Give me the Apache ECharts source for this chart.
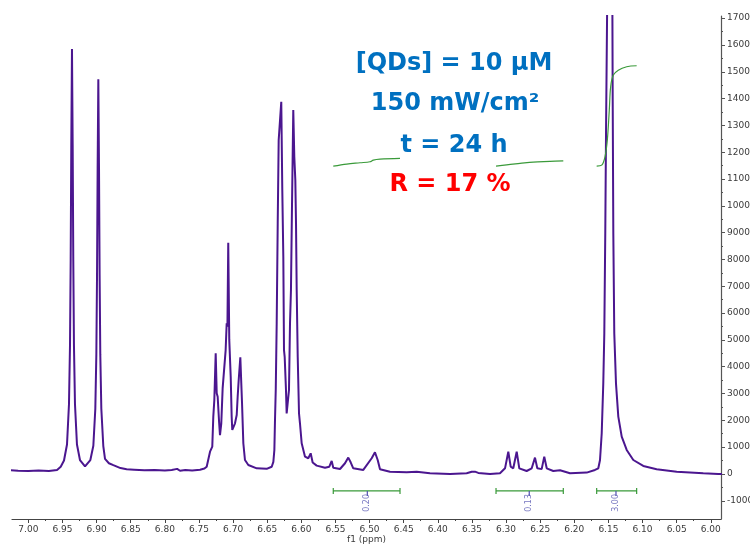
<!DOCTYPE html>
<html><head><meta charset="utf-8">
<script src="https://cdn.jsdelivr.net/npm/echarts@6/dist/echarts.min.js"></script>
<style>html,body{margin:0;padding:0;background:#fff}#c{width:750px;height:545px}</style>
</head><body><div id="c"></div>
<script>
// ---- data (ppm, intensity) ----
const spectrum = [
  [7.030,150],[7.015,120],[7.000,110],[6.985,125],[6.970,110],[6.958,150],
  [6.9526,270],[6.9478,500],[6.9434,1100],[6.9405,2600],[6.9390,4800],[6.9380,8000],[6.9371,12300],
  [6.9361,15850],[6.9351,12300],[6.9342,8000],[6.9332,4800],[6.9317,2600],[6.9288,1100],[6.9244,520],
  [6.9170,280],
  [6.9092,520],[6.9048,1050],[6.9019,2430],[6.9004,4450],[6.8994,7400],[6.8985,11400],[6.8975,14720],
  [6.8965,11400],[6.8956,7400],[6.8946,4450],[6.8931,2430],[6.8902,1040],[6.8877,560],[6.8820,400],
  [6.8755,330],[6.8650,220],[6.8560,175],[6.8450,160],[6.8300,140],[6.8150,150],[6.8000,130],
  [6.7900,150],[6.7820,190],[6.7778,120],[6.7700,150],[6.7600,130],[6.7485,160],[6.7420,200],
  [6.7387,270],[6.7338,830],[6.7305,1020],[6.7290,2140],[6.7275,2760],[6.7255,4500],[6.7240,3010],
  [6.7226,2880],[6.7207,2010],[6.7192,1450],[6.7173,1890],[6.7153,3200],[6.7129,3250],[6.7109,4620],
  [6.7094,5620],[6.7083,5500],[6.7071,8620],[6.7056,5000],[6.7035,3630],[6.7021,2140],[6.7012,1640],
  [6.6997,1580],[6.6972,1890],[6.6947,2200],[6.6933,2880],[6.6918,3500],[6.6909,3570],[6.6894,4350],
  [6.6880,3380],[6.6869,2640],[6.6850,1145],[6.6826,520],[6.6777,335],[6.6654,210],[6.6508,190],
  [6.6434,270],[6.6410,450],[6.6395,900],[6.6386,2000],[6.6375,3130],[6.6361,5620],[6.6346,9350],
  [6.6332,12450],[6.6303,12450],[6.6294,13880],[6.6279,10590],[6.6264,8100],[6.6254,4620],[6.6244,4370],
  [6.6225,3130],[6.6215,2260],[6.6200,2260],[6.6181,3130],[6.6166,5620],[6.6152,6860],[6.6137,9965],
  [6.6118,13570],[6.6103,11830],[6.6088,10960],[6.6078,9350],[6.6068,6860],[6.6053,4370],[6.6034,2260],
  [6.6020,1890],[6.5995,1145],[6.5946,645],[6.5898,585],[6.5863,770],[6.5834,430],[6.5775,310],
  [6.5653,235],[6.5590,270],[6.5555,485],[6.5532,235],[6.5433,185],[6.5360,400],[6.5312,610],
  [6.5277,435],[6.5239,210],[6.5092,150],[6.4969,585],[6.4921,810],[6.4881,520],[6.4847,175],
  [6.4701,85],[6.4456,60],[6.4309,85],[6.4115,25],[6.3821,0],[6.3577,25],[6.3503,85],[6.3480,150],
  [6.3455,85],[6.3430,140],[6.3407,40],[6.3235,0],[6.3089,25],[6.3015,210],[6.2967,830],[6.2932,270],
  [6.2894,210],[6.2844,830],[6.2806,210],[6.2698,110],[6.2624,210],[6.2576,610],[6.2542,210],
  [6.2478,180],[6.2440,645],[6.2404,210],[6.2308,110],[6.2209,140],[6.2063,25],[6.1818,50],
  [6.1697,150],[6.1648,210],[6.1623,520],[6.1598,1520],[6.1575,3380],[6.1560,5245],[6.1546,8970],
  [6.1535,12700],[6.1518,17500],[6.1503,30000],[6.1481,60000],[6.1459,30000],[6.1442,17500],
  [6.1437,13940],[6.1428,8970],[6.1414,5245],[6.1389,3380],[6.1355,2140],[6.1305,1390],[6.1232,895],
  [6.1135,520],[6.0989,300],[6.0793,175],[6.0499,85],[6.0110,25],[5.9890,0],[5.9800,0]
];
const integralCurveA = [[6.5532,11480],[6.5335,11557],[6.5140,11606],[6.4994,11643],[6.4945,11706],[6.4847,11743],[6.4554,11770]];
const integralCurveB = [[6.3147,11482],[6.2991,11531],[6.2796,11581],[6.2601,11631],[6.2356,11656],[6.2161,11680]];
const integralCurveC = [[6.1672,11482],[6.1598,11519],[6.1550,11830],[6.1516,12451],[6.1487,13570],[6.1467,14439],[6.1428,14875],[6.1355,15061],[6.1232,15186],[6.1086,15224]];
const integralRanges = [[6.5532,6.4554],[6.3147,6.2161],[6.1672,6.1086]];
const integralLabelPos = [6.5033,6.2660,6.1389];
const integralValues = ['0.20','0.13','3.00'];
const xTickLabels = ['7.00','6.95','6.90','6.85','6.80','6.75','6.70','6.65','6.60','6.55','6.50','6.45','6.40','6.35','6.30','6.25','6.20','6.15','6.10','6.05','6.00'];
const yTickLabels = ['-1000','0','1000','2000','3000','4000','5000','6000','7000','8000','9000','10000','11000','12000','13000','14000','15000','16000','17000'];
const annotationLines = ['[QDs] = 10 µM','150 mW/cm²','t = 24 h','R = 17 %'];

// ---- layout / style ----
const X_MIN = 5.985, X_MAX = 7.024, Y_MIN = -1680, Y_MAX = 17080;
const BAR_Y = -634, CAP = 112, POINTER_END = -820, LABEL_Y = -1081;
const purple = '#4b168f', green = '#3a9a3a', intBlue = '#5252b0';
const axisFont = {fontFamily:'DejaVu Sans', fontSize:9, color:'#3a3a3a'};

const xMajor = xTickLabels.map(Number);
const xMinor = xMajor.slice(0,-1).map(v => +(v-0.025).toFixed(3));
const yMajor = yTickLabels.map(Number);
const yMinor = yMajor.map(v => v + 500).filter(v => v < Y_MAX);

const chart = echarts.init(document.getElementById('c'), null, {renderer:'canvas'});

const series = [{
  type:'line', data: spectrum, xAxisIndex:0, yAxisIndex:0, symbol:'none', clip:true,
  lineStyle:{color:purple, width:2}, z:3
}];
[integralCurveA, integralCurveB, integralCurveC].forEach(c => series.push({
  type:'line', data:c, symbol:'none', smooth:0.35, lineStyle:{color:green, width:1.2}, z:4
}));
integralRanges.forEach(r => series.push({
  type:'line', symbol:'none', lineStyle:{color:green, width:1.2}, z:4,
  data:[[r[0],BAR_Y-CAP],[r[0],BAR_Y+CAP],[r[0],BAR_Y],[r[1],BAR_Y],[r[1],BAR_Y+CAP],[r[1],BAR_Y-CAP]]
}));
integralLabelPos.forEach(p => series.push({
  type:'line', symbol:'none', lineStyle:{color:intBlue, width:1.2}, z:5,
  data:[[p,BAR_Y],[p,POINTER_END]]
}));
series.push({
  type:'scatter', symbolSize:0, z:6,
  data: integralLabelPos.map((p,i) => ({value:[p,LABEL_Y], name:integralValues[i]})),
  label:{show:true, position:'inside', rotate:90, formatter:p => p.name,
    fontFamily:'DejaVu Sans', fontSize:8, color:intBlue}
});

const centers = [[454,64],[455,104],[454,146],[450,185]];

chart.setOption({
  animation:false,
  backgroundColor:'#ffffff',
  grid:{left:12, right:29, top:16, bottom:26, containLabel:false, outerBoundsMode:'none'},
  xAxis:[{
    type:'value', inverse:true, min:X_MIN, max:X_MAX, position:'bottom',
    name:'f1 (ppm)', nameLocation:'middle', nameGap:16, nameMoveOverlap:false,
    nameTextStyle:axisFont,
    axisLine:{show:true, onZero:false, lineStyle:{color:'#444', width:1.2}},
    axisTick:{show:true, customValues:xMajor, length:4, lineStyle:{color:'#444'}},
    axisLabel:{show:true, customValues:xMajor, margin:6, formatter:v => Number(v).toFixed(2), ...axisFont},
    splitLine:{show:false}
  },{
    type:'value', inverse:true, min:X_MIN, max:X_MAX, position:'bottom',
    axisLine:{show:false, onZero:false},
    axisTick:{show:true, customValues:xMinor, length:2, lineStyle:{color:'#444'}},
    axisLabel:{show:false}, splitLine:{show:false}
  }],
  yAxis:[{
    type:'value', min:Y_MIN, max:Y_MAX, position:'right',
    axisLine:{show:true, onZero:false, lineStyle:{color:'#555', width:1.2}},
    axisTick:{show:true, customValues:yMajor, length:4, lineStyle:{color:'#555'}},
    axisLabel:{show:true, customValues:yMajor, margin:6, formatter:v => String(v), ...axisFont},
    splitLine:{show:false}
  },{
    type:'value', min:Y_MIN, max:Y_MAX, position:'right',
    axisLine:{show:false, onZero:false},
    axisTick:{show:true, customValues:yMinor, length:2, lineStyle:{color:'#555'}},
    axisLabel:{show:false}, splitLine:{show:false}
  }],
  series: series,
  graphic: annotationLines.map((t,i) => ({
    type:'text', x:centers[i][0], y:centers[i][1], z:10,
    style:{text:t, font:'bold 24px "DejaVu Sans"', fill: i===3 ? '#ff0000' : '#0070c0',
      textAlign:'center', textVerticalAlign:'middle'}
  }))
});
</script>
</body></html>
